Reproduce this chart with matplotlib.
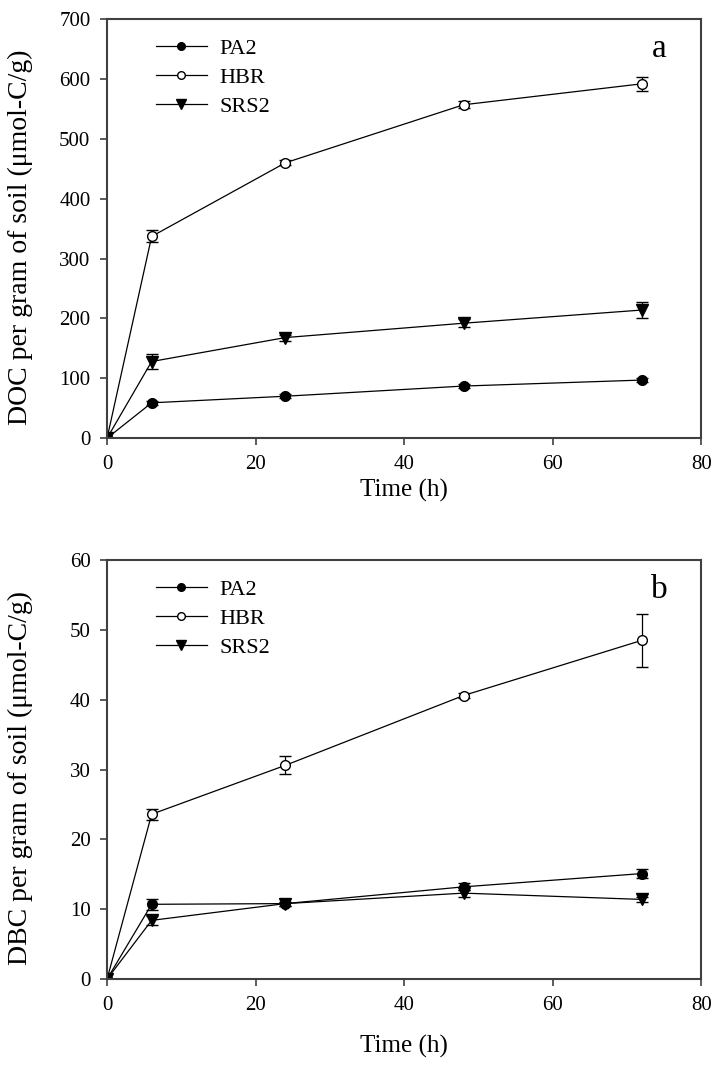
import matplotlib
matplotlib.use("Agg")
from matplotlib import pyplot as plt
from matplotlib.lines import Line2D

plt.rcParams['font.family'] = ['Liberation Serif', 'DejaVu Serif']

time_h = [0, 6, 24, 48, 72]
series_names = ['PA2', 'HBR', 'SRS2']

# panel a: DOC
doc_pa2 = [0, 59, 70, 87, 97]
doc_pa2_err = [0, 3, 3, 3, 4]
doc_hbr = [0, 337, 460, 557, 592]
doc_hbr_err = [0, 10, 4, 6, 12]
doc_srs2 = [0, 128, 168, 192, 214]
doc_srs2_err = [0, 12, 5, 7, 14]

# panel b: DBC
dbc_pa2 = [0, 10.7, 10.8, 13.2, 15.1]
dbc_pa2_err = [0, 0.8, 0.3, 0.5, 0.7]
dbc_hbr = [0, 23.6, 30.6, 40.6, 48.5]
dbc_hbr_err = [0, 0.8, 1.3, 0.4, 3.8]
dbc_srs2 = [0, 8.4, 10.8, 12.3, 11.4]
dbc_srs2_err = [0, 0.6, 0.3, 0.5, 0.4]

styles = {
    'PA2': dict(marker='o', mfc='black', ms=7),
    'HBR': dict(marker='o', mfc='white', ms=7),
    'SRS2': dict(marker='v', mfc='black', ms=8),
}

spine_color = '#404040'


def draw_panel(ax, data, ylim, yticks, ylabel, letter, xlabel_y):
    for name, (vals, errs) in zip(series_names, data):
        st = styles[name]
        ax.errorbar(time_h, vals, yerr=errs, color='black', lw=0.9,
                    marker=st['marker'], mfc=st['mfc'], mec='black',
                    ms=st['ms'], mew=1.0, capsize=4, elinewidth=0.9,
                    capthick=0.9)
    ax.set_xlim(0, 80)
    ax.set_ylim(*ylim)
    ax.set_xticks([0, 20, 40, 60, 80])
    ax.set_yticks(yticks)
    ax.tick_params(direction='out', length=5, width=1.2, color=spine_color,
                   labelsize=15, pad=7)
    for sp in ax.spines.values():
        sp.set_color(spine_color)
        sp.set_linewidth(1.5)
    ax.set_xlabel('Time (h)', fontsize=18)
    ax.xaxis.set_label_coords(0.5, xlabel_y)
    ax.set_ylabel(ylabel, fontsize=20)
    ax.yaxis.set_label_coords(-0.125, 0.48)
    ax.text(0.93, 0.93, letter, transform=ax.transAxes, fontsize=24,
            ha='center', va='center')
    handles = [Line2D([], [], color='black', lw=0.9, marker=styles[n]['marker'],
                      mfc=styles[n]['mfc'], mec='black', ms=styles[n]['ms'] - 1.5)
               for n in series_names]
    ax.legend(handles, series_names, loc='upper left',
              bbox_to_anchor=(0.067, 0.975), frameon=False, fontsize=16,
              handlelength=2.3, labelspacing=0.38, handletextpad=0.55,
              borderaxespad=0)


fig = plt.figure(figsize=(7.14, 10.66), dpi=100)
ax_a = fig.add_axes([0.150, 0.589, 0.832, 0.393])
ax_b = fig.add_axes([0.150, 0.0816, 0.832, 0.393])

draw_panel(ax_a,
           [(doc_pa2, doc_pa2_err), (doc_hbr, doc_hbr_err), (doc_srs2, doc_srs2_err)],
           (0, 700), range(0, 701, 100),
           'DOC per gram of soil (\u03bcmol-C/g)', 'a', -0.097)
draw_panel(ax_b,
           [(dbc_pa2, dbc_pa2_err), (dbc_hbr, dbc_hbr_err), (dbc_srs2, dbc_srs2_err)],
           (0, 60), range(0, 61, 10),
           'DBC per gram of soil (\u03bcmol-C/g)', 'b', -0.134)

fig.savefig('out.png', dpi=100)
